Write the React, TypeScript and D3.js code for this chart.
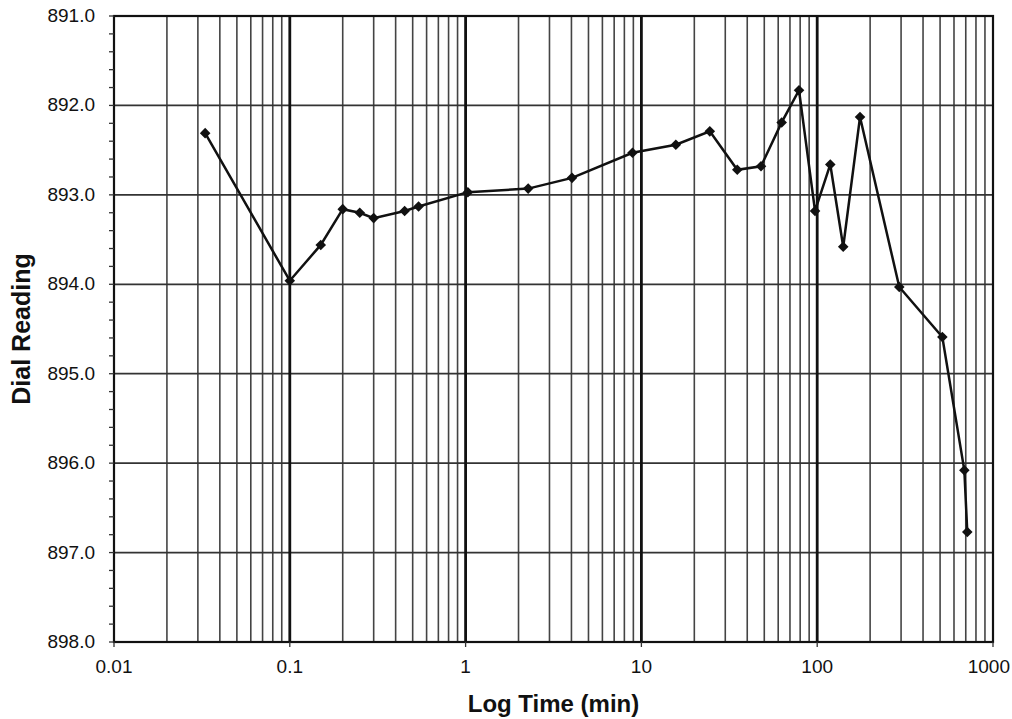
import { useMemo } from "react";
import * as d3 from "d3";

// Data
const logTimes = [
  0.033, 0.1, 0.15, 0.2, 0.25, 0.3, 0.45, 0.54, 1.03, 2.27, 4.03, 8.9, 15.7,
  24.5, 35.1, 47.9, 62.8, 78.8, 97.2, 118.7, 140.6, 175.2, 293, 515, 687, 714,
];
const dialReadings = [
  892.31, 893.96, 893.56, 893.16, 893.2, 893.26, 893.18, 893.13, 892.97,
  892.93, 892.81, 892.53, 892.44, 892.29, 892.72, 892.68, 892.19, 891.83,
  893.18, 892.66, 893.58, 892.13, 894.03, 894.59, 896.08, 896.77,
];
const xTickValues = [0.01, 0.1, 1, 10, 100, 1000];
const xTickLabels = ["0.01", "0.1", "1", "10", "100", "1000"];
const yTickValues = [891, 892, 893, 894, 895, 896, 897, 898];
const yTickLabels = ["891.0", "892.0", "893.0", "894.0", "895.0", "896.0", "897.0", "898.0"];

const W = 1012;
const H = 719;
const margin = { top: 16, right: 19, bottom: 77, left: 114 };

const App = () => {
  const innerW = W - margin.left - margin.right;
  const innerH = H - margin.top - margin.bottom;

  const x = useMemo(
    () => d3.scaleLog().domain([0.01, 1000]).range([0, innerW]),
    [innerW],
  );
  const y = useMemo(
    () => d3.scaleLinear().domain([891, 898]).range([0, innerH]),
    [innerH],
  );

  // minor log gridlines 2..9 in each decade
  const minorX: number[] = [];
  for (let d = 0; d < 5; d++) {
    const base = xTickValues[d];
    for (let k = 2; k <= 9; k++) minorX.push(base * k);
  }
  const minorY = d3.range(891, 898.001, 0.2);

  const points = logTimes.map((t, i) => [t, dialReadings[i]] as [number, number]);
  const line = d3
    .line<[number, number]>()
    .x((d) => x(d[0]))
    .y((d) => y(d[1]));
  const diamond = d3.symbol().type(d3.symbolSquare).size(56)();

  const font = "'Liberation Sans', Arial, sans-serif";

  return (
    <svg
      width={W}
      height={H}
      style={{ position: "absolute", left: 0, top: 0, background: "#fff" }}
      fontFamily={font}
    >
      <g transform={`translate(${margin.left},${margin.top})`}>
        {/* minor vertical grid */}
        {minorX.map((v) => (
          <line
            key={`mx${v}`}
            x1={x(v)}
            x2={x(v)}
            y1={0}
            y2={innerH}
            stroke="#444"
            strokeWidth={1.6}
          />
        ))}
        {/* horizontal grid */}
        {yTickValues.map((v) => (
          <line
            key={`gy${v}`}
            x1={0}
            x2={innerW}
            y1={y(v)}
            y2={y(v)}
            stroke="#333"
            strokeWidth={1.7}
          />
        ))}
        {/* decade lines */}
        {xTickValues.slice(1, 5).map((v) => (
          <line
            key={`dx${v}`}
            x1={x(v)}
            x2={x(v)}
            y1={0}
            y2={innerH}
            stroke="#111"
            strokeWidth={2.8}
          />
        ))}
        {/* plot border */}
        <rect
          x={0}
          y={0}
          width={innerW}
          height={innerH}
          fill="none"
          stroke="#111"
          strokeWidth={2.2}
        />
        {/* y minor ticks */}
        {minorY.map((v) => (
          <line
            key={`ty${v}`}
            x1={-5}
            x2={0}
            y1={y(v)}
            y2={y(v)}
            stroke="#333"
            strokeWidth={1.3}
          />
        ))}
        {/* x ticks */}
        {xTickValues.map((v) => (
          <line
            key={`tx${v}`}
            x1={x(v)}
            x2={x(v)}
            y1={innerH}
            y2={innerH + 5}
            stroke="#333"
            strokeWidth={1.3}
          />
        ))}
        {/* y tick labels */}
        {yTickValues.map((v, i) => (
          <text
            key={`ly${v}`}
            x={-19}
            y={y(v) + 6}
            textAnchor="end"
            fontSize={19}
            fill="#111"
          >
            {yTickLabels[i]}
          </text>
        ))}
        {/* x tick labels (last one kept inside the page edge) */}
        {xTickValues.map((v, i) => {
          const last = i === xTickValues.length - 1;
          return (
            <text
              key={`lx${v}`}
              x={last ? innerW + margin.right - 2 : x(v)}
              y={innerH + 31}
              textAnchor={last ? "end" : "middle"}
              fontSize={19}
              fill="#111"
            >
              {xTickLabels[i]}
            </text>
          );
        })}
        {/* data line */}
        <path
          d={line(points) ?? ""}
          fill="none"
          stroke="#111"
          strokeWidth={2.5}
        />
        {points.map((p, i) => (
          <path
            key={`pt${i}`}
            d={diamond ?? ""}
            transform={`translate(${x(p[0])},${y(p[1])}) rotate(45)`}
            fill="#111"
          />
        ))}
        {/* axis titles */}
        <text
          x={innerW / 2}
          y={innerH + 70}
          textAnchor="middle"
          fontSize={24}
          fontWeight="bold"
          fill="#111"
        >
          Log Time (min)
        </text>
        <text
          transform={`translate(${-margin.left + 30},${innerH / 2}) rotate(-90)`}
          textAnchor="middle"
          fontSize={25}
          fontWeight="bold"
          fill="#111"
        >
          Dial Reading
        </text>
      </g>
    </svg>
  );
};

export default App;
